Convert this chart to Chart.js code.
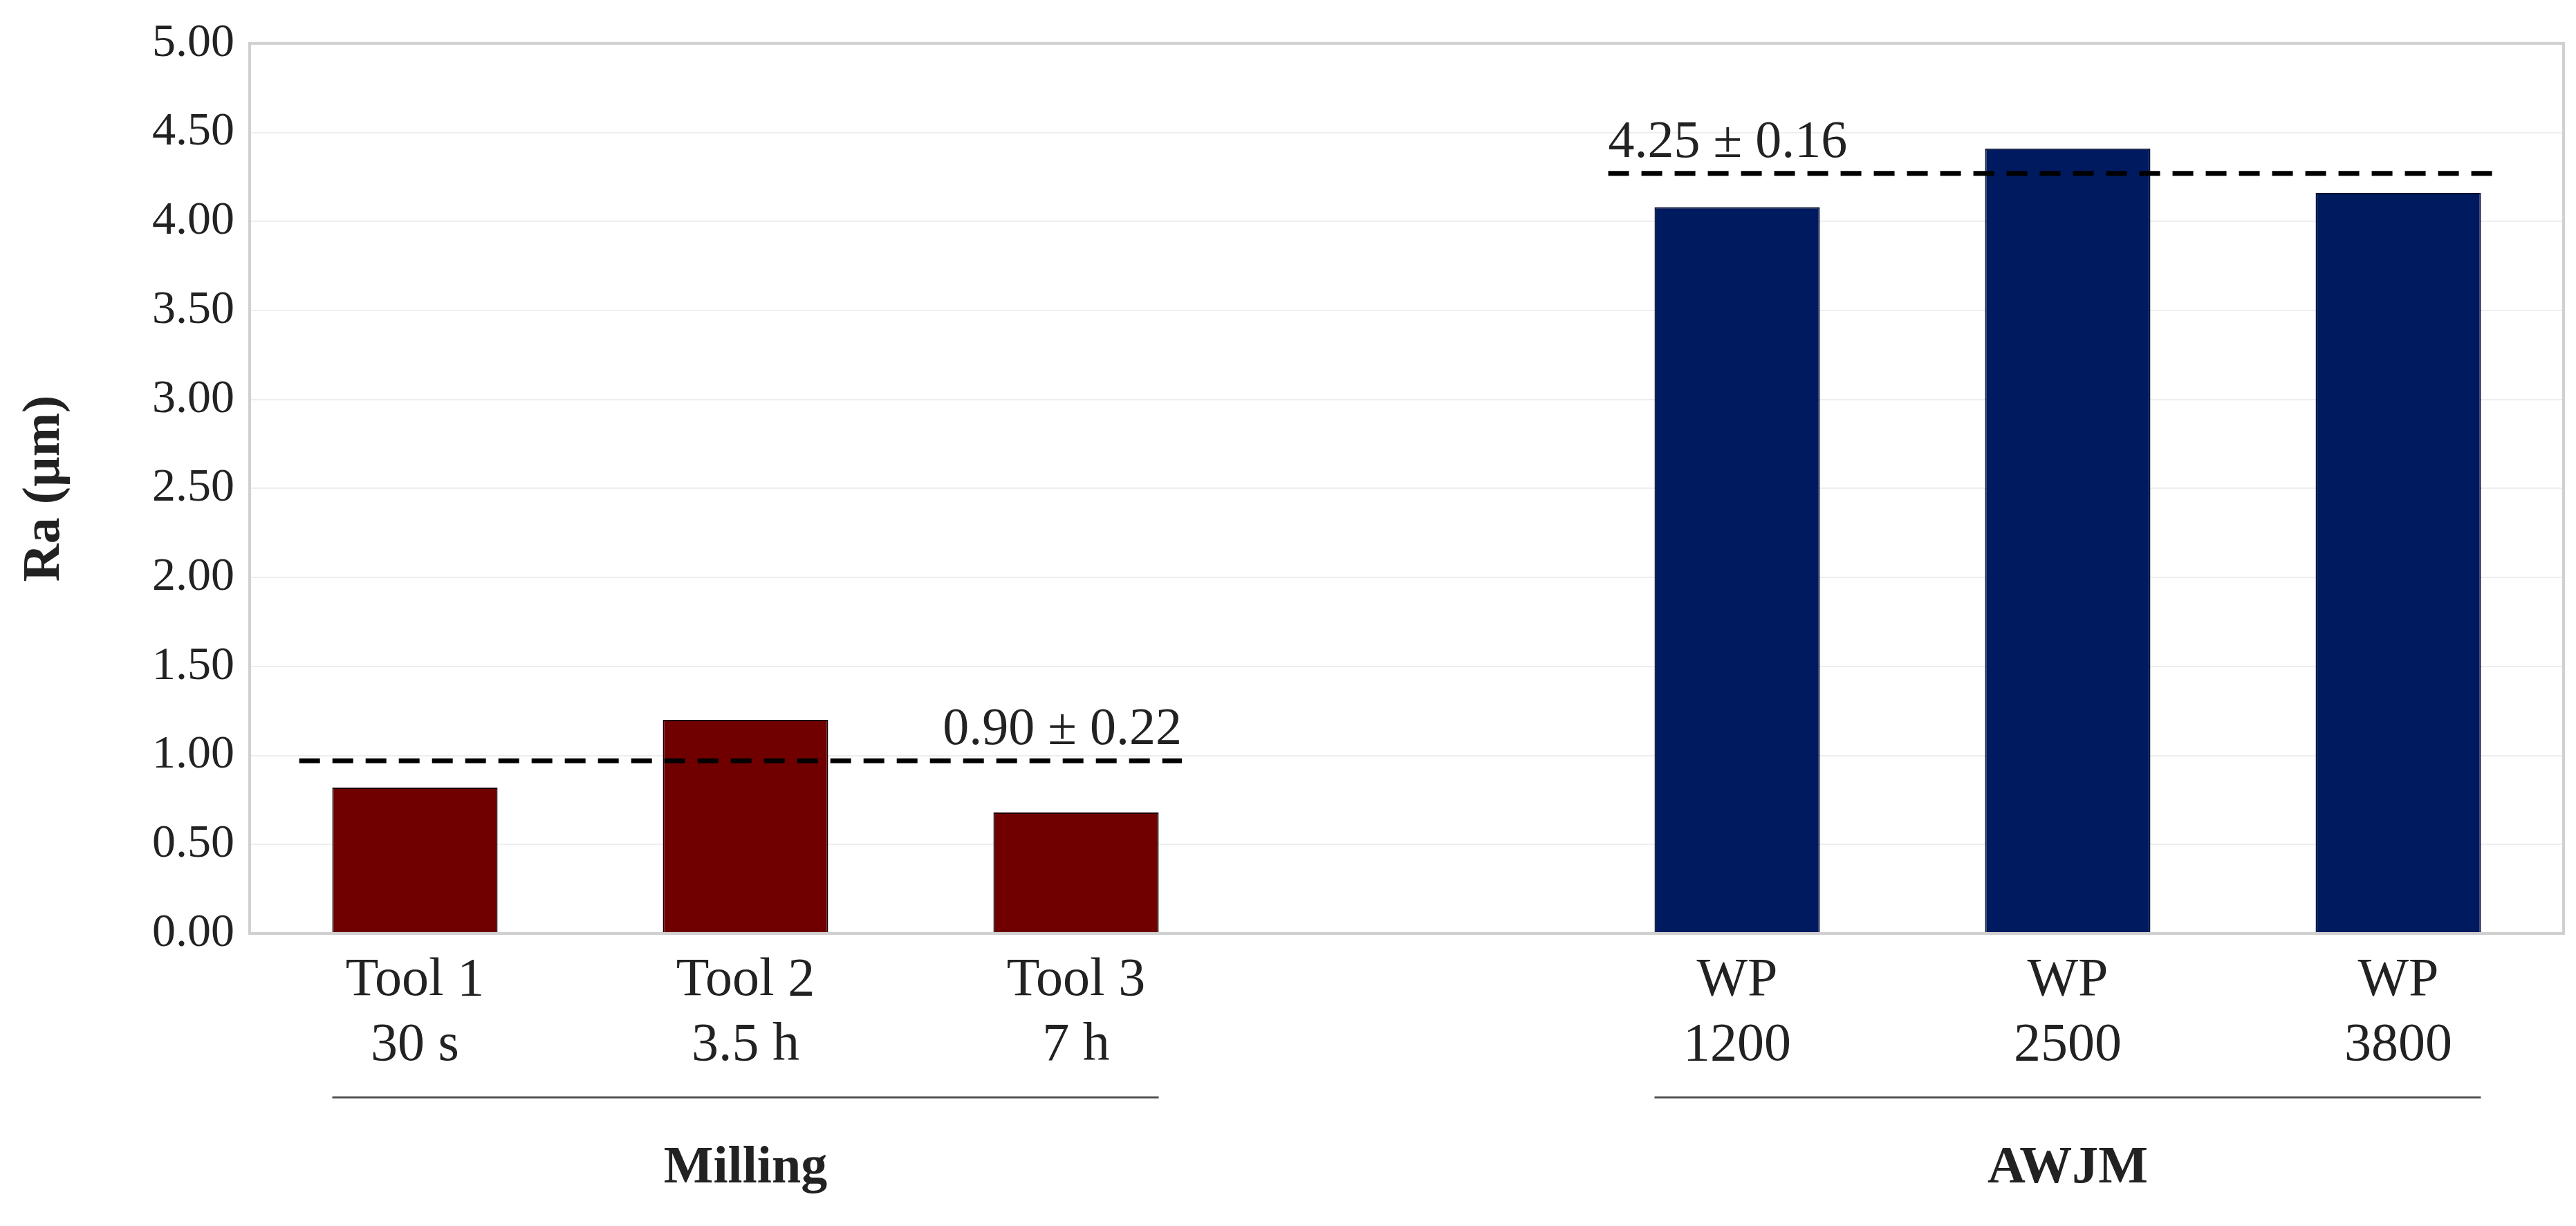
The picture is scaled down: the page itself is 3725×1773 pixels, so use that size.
<!DOCTYPE html>
<html><head><meta charset="utf-8">
<script src="https://cdn.jsdelivr.net/npm/chart.js@4/dist/chart.umd.min.js"></script>
<style>html,body{margin:0;padding:0;background:#fff}#w{width:3725px;height:1773px}</style>
</head><body><div id="w"><canvas id="c"></canvas></div>
<script>
const categories = [["Tool 1","30 s"],["Tool 2","3.5 h"],["Tool 3","7 h"],"",["WP","1200"],["WP","2500"],["WP","3800"]];
const millingValues = [0.82, 1.20, 0.68, null, null, null, null];
const awjmValues = [null, null, null, null, 4.08, 4.41, 4.16];
const yTicks = [0,0.5,1,1.5,2,2.5,3,3.5,4,4.5,5];
const groupNames = ["Milling","AWJM"];
const groupRanges = [[0,2],[4,6]];
const meanValues = [0.97, 4.27];
const meanLabels = ["0.90 ± 0.22","4.25 ± 0.16"];
const meanRanges = [[-0.35,2.32],[3.61,6.29]];
const FONT = "'Liberation Serif', 'DejaVu Serif', serif";
const TXT = "#222";

const extras = {
  id:'extras',
  afterDatasetsDraw(ch){
    const {ctx, chartArea:a, scales:{x,y}} = ch;
    const step = x.getPixelForValue(1)-x.getPixelForValue(0);
    const px = v => x.getPixelForValue(0)+v*step;
    ctx.save();
    // frame
    ctx.strokeStyle="#d0d0d0"; ctx.lineWidth=4;
    ctx.strokeRect(a.left,a.top,a.right-a.left,a.bottom-a.top);
    // mean lines
    ctx.strokeStyle="#000"; ctx.lineWidth=7; ctx.setLineDash([30,18]);
    ctx.font="76px "+FONT; ctx.fillStyle=TXT; ctx.textBaseline="bottom";
    meanValues.forEach((m,i)=>{
      const yy=y.getPixelForValue(m), x0=px(meanRanges[i][0]), x1=px(meanRanges[i][1]);
      ctx.beginPath(); ctx.moveTo(x0,yy); ctx.lineTo(x1,yy); ctx.stroke();
      if(i===0){ctx.textAlign="right"; ctx.fillText(meanLabels[i], x1, yy-6);}
      else {ctx.textAlign="left"; ctx.fillText(meanLabels[i], x0, yy-6);}
    });
    ctx.setLineDash([]);
    // group separators and names
    ctx.strokeStyle="#555"; ctx.lineWidth=3;
    ctx.font="bold 76px "+FONT; ctx.textAlign="center"; ctx.textBaseline="middle";
    groupRanges.forEach((r,i)=>{
      const x0=px(r[0]-0.25), x1=px(r[1]+0.25), ly=1587;
      ctx.beginPath(); ctx.moveTo(x0,ly); ctx.lineTo(x1,ly); ctx.stroke();
      ctx.fillText(groupNames[i], (x0+x1)/2, 1690);
    });
    ctx.restore();
  }
};

new Chart(document.getElementById('c'),{
  type:'bar',
  data:{labels:categories,datasets:[
    {data:millingValues,backgroundColor:'#700000',borderColor:'#1a0000',borderWidth:2,barPercentage:0.5,categoryPercentage:1,grouped:false},
    {data:awjmValues,backgroundColor:'#001a60',borderColor:'#000a30',borderWidth:2,barPercentage:0.5,categoryPercentage:1,grouped:false}
  ]},
  options:{
    responsive:true, maintainAspectRatio:false, animation:false, devicePixelRatio:1,
    layout:{padding:{top:59,right:18,left:20,bottom:0}},
    plugins:{legend:{display:false},tooltip:{enabled:false}},
    scales:{
      x:{grid:{display:false},border:{display:false},
         ticks:{color:TXT,font:{family:FONT,size:78},padding:14,maxRotation:0,autoSkip:false},
         afterFit(s){s.height=1773-1350;}},
      y:{min:0,max:5,afterBuildTicks(s){s.ticks=yTicks.map(v=>({value:v}));},
         grid:{color:'#eeeeee',lineWidth:2,drawTicks:false},border:{display:false},
         ticks:{color:TXT,font:{family:FONT,size:68},padding:22,callback:v=>v.toFixed(2)},
         title:{display:true,text:'Ra (µm)',color:TXT,font:{family:FONT,size:76,weight:'bold'},padding:0},
         afterFit(s){s.width=361-20;}}
    }
  },
  plugins:[extras]
});
</script></body></html>
